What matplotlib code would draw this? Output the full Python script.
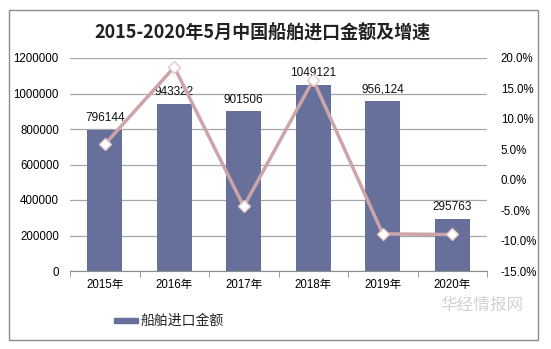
import matplotlib
matplotlib.use('Agg')
import matplotlib.pyplot as plt
from matplotlib.patches import Rectangle
from matplotlib.ticker import FuncFormatter, MultipleLocator

plt.rcParams['font.family'] = ['Liberation Sans', 'Noto Sans CJK SC']

# 船舶进口金额 (万美元) 与同比增速
years = ['2015年', '2016年', '2017年', '2018年', '2019年', '2020年']
amounts = [796144, 943322, 901506, 1049121, 956124, 295763]
amount_labels = ['796144', '943322', '901506', '1049121', '956,124', '295763']
growth = [5.8, 18.5, -4.4, 16.4, -8.9, -9.0]

W, H = 551, 349
fig = plt.figure(figsize=(W / 100, H / 100), dpi=100)

# chart border
fig.patches.append(Rectangle((9 / W, (H - 340) / H), 529 / W, 330 / H,
                             transform=fig.transFigure, fill=False,
                             edgecolor='#8c8c8c', linewidth=1))

ax = fig.add_axes([70 / W, (H - 271) / H, 417 / W, 213 / H])
x = range(len(years))
ax.bar(x, amounts, width=0.5, color='#66709a', zorder=2)
ax.set_xlim(-0.5, len(years) - 0.5)
ax.set_ylim(0, 1200000)
ax.yaxis.set_major_locator(MultipleLocator(200000))
ax.yaxis.set_major_formatter(FuncFormatter(lambda v, p: f'{int(v)}'))
ax.grid(axis='y', color='#a6a6a6', linewidth=0.9, zorder=0)
for s in ['top', 'left', 'right']:
    ax.spines[s].set_visible(False)
ax.spines['bottom'].set_color('#8c8c8c')
ax.set_xticks(list(x))
ax.set_xticklabels(years, fontsize=8.3)
ax.tick_params(axis='x', length=0, pad=6)
ax.set_xticks([i - 0.5 for i in range(len(years) + 1)], minor=True)
ax.tick_params(axis='x', which='minor', length=4, color='#8c8c8c')
ax.tick_params(axis='y', length=0, labelsize=8.3, pad=8)

for i, v in enumerate(amounts):
    ax.text(i, v + 30000, amount_labels[i], ha='center', va='bottom',
            fontsize=8.5, color='#111111')

ax2 = ax.twinx()
ax2.plot(list(x), growth, color='#cda4a8', linewidth=2.5, marker='D',
         markersize=6, markerfacecolor='white', markeredgecolor='#e2c8ca',
         zorder=3)
ax2.set_ylim(-15, 20)
ax2.yaxis.set_major_locator(MultipleLocator(5))
ax2.yaxis.set_major_formatter(FuncFormatter(lambda v, p: f'{v:.1f}%'))
ax2.tick_params(axis='y', length=0, labelsize=8.3, pad=10)
for s in ['top', 'left', 'right', 'bottom']:
    ax2.spines[s].set_visible(False)

fig.text(262 / W, 1 - 33 / H, '2015-2020年5月中国船舶进口金额及增速',
         ha='center', va='center', fontsize=13, fontweight='bold',
         family=['Noto Sans CJK SC'], color='#222222')

# legend
fig.patches.append(Rectangle((114 / W, 1 - 323 / H), 24 / W, 5 / H,
                             transform=fig.transFigure, color='#66709a'))
fig.text(141 / W, 1 - 321 / H, '船舶进口金额', ha='left', va='center',
         fontsize=10, family=['Noto Sans CJK SC'], color='#222222')

# watermark
fig.text(482 / W, 1 - 305 / H, '华经情报网', ha='center', va='center',
         fontsize=12, family=['Noto Sans CJK SC'], color='#c8c8c8', alpha=0.8)

fig.savefig('out.png', dpi=100)
